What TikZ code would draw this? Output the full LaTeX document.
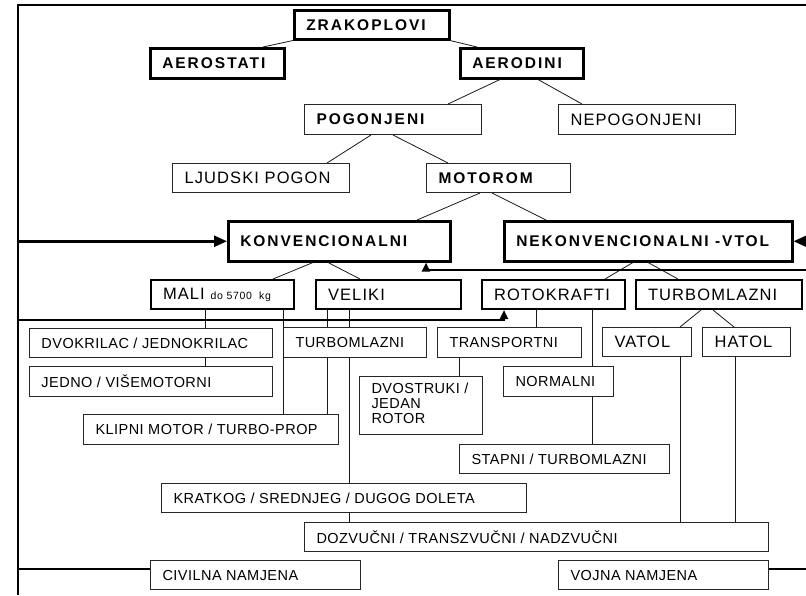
\documentclass[tikz,border=0pt]{standalone}
\usepackage{fontspec}
\setmainfont{Liberation Sans}
\newfontfamily\fbig[LetterSpace=6.7]{Liberation Sans}
\newfontfamily\fsml[LetterSpace=3.2]{Liberation Sans}
\newfontfamily\fbld[LetterSpace=12.8]{Liberation Sans}
\usetikzlibrary{arrows.meta}
\tikzset{
  big/.style={font=\fbig\fontsize{16.5}{19}\selectfont},
  sml/.style={font=\fsml\fontsize{14.5}{15}\selectfont},
  bld/.style={font=\fbld\bfseries\fontsize{15.5}{18}\selectfont},
  bxA/.style={draw=black, fill=white, line width=2.5pt},
  bxB/.style={draw=black, fill=white, line width=2pt},
  bxC/.style={draw=black!85, fill=white, line width=1pt},
  conn/.style={draw=black!90, line width=0.8pt},
  frm/.style={draw=black, line width=2.5pt},
  bigtip/.style={-{Triangle[length=13pt,width=11pt]}},
  smltip/.style={-{Triangle[length=9pt,width=8pt]}},
}
\newcommand\Bx[7]{%
  \pgfmathsetmacro\bxw{#4-#2-24}\pgfmathsetmacro\bxh{#5-#3}%
  \node[#6,anchor=north west,inner xsep=12pt,inner ysep=0pt,minimum height=\bxh pt] (#1) at (#2,#3) {\hbox to \bxw pt{#7\hss}};}
\begin{document}
\begin{tikzpicture}[x=1pt,y=-1pt]
\fill[white] (0,0) rectangle (806,595);
\useasboundingbox (0,0) rectangle (806,595);
% boxes
\Bx{zrak}{293}{9}{448}{38}{bld,bxA}{ZRAKOPLOVI}
\Bx{aerost}{149}{47}{283}{77}{bld,bxA}{AEROSTATI}
\Bx{aerod}{459}{47}{582}{77}{bld,bxA}{AERODINI}
\Bx{pog}{304}{104}{481}{134}{bld,bxC}{POGONJENI}
\Bx{nepog}{558}{104}{735}{134}{big,bxC}{NEPOGONJENI}
\Bx{ljud}{172}{163}{349}{192}{big,bxC}{LJUDSKI POGON}
\Bx{motor}{426}{163}{570}{192}{bld,bxC}{MOTOROM}
\Bx{konv}{227}{220}{449}{260}{bld,bxA}{KONVENCIONALNI}
\Bx{nekonv}{503}{220}{791}{260}{bld,bxA}{NEKONVENCIONALNI -VTOL}
\Bx{mali}{150}{279}{293}{308}{big,bxB}{MALI {\fontsize{10.5}{12}\selectfont do 5700~~kg}}
\Bx{vel}{315}{279}{460}{308}{big,bxB}{VELIKI}
\Bx{rotok}{481}{279}{624}{308}{big,bxB}{ROTOKRAFTI}
\Bx{turb}{635}{279}{801}{308}{big,bxB}{TURBOMLAZNI}
\Bx{vatol}{602}{327}{691}{356}{big,bxC}{VATOL}
\Bx{hatol}{702}{327}{790}{356}{big,bxC}{HATOL}
\Bx{dvok}{29}{328}{272}{357}{sml,bxC}{DVOKRILAC / JEDNOKRILAC}
\Bx{jedno}{29}{366}{272}{396}{sml,bxC}{JEDNO / VIŠEMOTORNI}
\Bx{klip}{83}{414}{338}{444}{sml,bxC}{KLIPNI MOTOR / TURBO-PROP}
\Bx{turbm}{283}{327}{426}{357}{sml,bxC}{TURBOMLAZNI}
\Bx{trans}{437}{327}{581}{357}{sml,bxC}{TRANSPORTNI}
\Bx{dvos}{359}{376}{482}{434}{sml,bxC}{\begin{tabular}{@{}l@{}}DVOSTRUKI /\\JEDAN\\ROTOR\end{tabular}}
\Bx{norm}{503}{366}{613}{396}{sml,bxC}{NORMALNI}
\Bx{stap}{459}{444}{669}{473}{sml,bxC}{STAPNI / TURBOMLAZNI}
\Bx{krat}{161}{483}{526}{512}{sml,bxC}{KRATKOG / SREDNJEG / DUGOG DOLETA}
\Bx{dozv}{304}{522}{768}{551}{sml,bxC}{DOZVUČNI / TRANSZVUČNI / NADZVUČNI}
\Bx{civ}{150}{560}{360}{589}{sml,bxC}{CIVILNA NAMJENA}
\Bx{voj}{558}{560}{768}{589}{sml,bxC}{VOJNA NAMJENA}
% tree connectors
\draw[conn] (zrak.south -| 293,0) -- (aerost.north -| 263,0);
\draw[conn] (zrak.south -| 450,0) -- (aerod.north -| 477,0);
\draw[conn] (aerod.south -| 500,0) -- (pog.north -| 448,0);
\draw[conn] (aerod.south -| 538,0) -- (nepog.north -| 582,0);
\draw[conn] (pog.south -| 371,0) -- (ljud.north -| 327,0);
\draw[conn] (pog.south -| 393,0) -- (motor.north -| 448,0);
\draw[conn] (motor.south -| 480,0) -- (konv.north -| 417,0);
\draw[conn] (motor.south -| 492,0) -- (nekonv.north -| 546,0);
\draw[conn] (konv.south -| 313,0) -- (mali.north -| 273,0);
\draw[conn] (konv.south -| 328,0) -- (vel.north -| 360,0);
\draw[conn] (nekonv.south -| 633,0) -- (rotok.north -| 605,0);
\draw[conn] (nekonv.south -| 648,0) -- (turb.north -| 678,0);
\draw[conn] (turb.south -| 701,0) -- (vatol.north -| 680,0);
\draw[conn] (turb.south -| 713,0) -- (hatol.north -| 734,0);
% vertical connectors
\draw[conn] (mali.south -| 205,0) -- (dvok.north -| 205,0);
\draw[conn] (dvok.south -| 205,0) -- (jedno.north -| 205,0);
\draw[conn] (mali.south -| 283,0) -- (klip.north -| 283,0);
\draw[conn] (vel.south -| 327,0) -- (turbm.north -| 327,0);
\draw[conn] (turbm.south -| 327,0) -- (klip.north -| 327,0);
\draw[conn] (vel.south -| 349,0) -- (turbm.north -| 349,0);
\draw[conn] (turbm.south -| 349,0) -- (krat.north -| 349,0);
\draw[conn] (krat.south -| 349,0) -- (dozv.north -| 349,0);
\draw[conn] (rotok.south -| 536,0) -- (trans.north -| 536,0);
\draw[conn] (trans.south -| 459,0) -- (dvos.north -| 459,0);
\draw[conn] (rotok.south -| 592,0) -- (norm.north -| 592,0);
\draw[conn] (norm.south -| 592,0) -- (stap.north -| 592,0);
\draw[conn] (vatol.south -| 680,0) -- (dozv.north -| 680,0);
\draw[conn] (hatol.south -| 735,0) -- (dozv.north -| 735,0);
% frame and thick lines
\coordinate (fTR) at (806,5);
\coordinate (fTL) at (18,5);
\coordinate (fBL) at (18,595);
\draw[frm] (fTR) -- (fTL) -- (fBL);
\coordinate (lA) at (18,320);
\coordinate (lB) at (806,270);
\draw[frm,smltip] (lA) -- (504,320) -- (rotok.south -| 504,0);
\draw[frm,smltip] (lB) -- (426,270) -- (konv.south -| 426,0);
\draw[frm,bigtip] (konv.west -| fTL) -- (konv.west);
\draw[frm,bigtip] (nekonv.east -| fTR) -- (nekonv.east);
\draw[frm] (18,569) -- (civ.west |- 18,569);
\draw[frm] (voj.east |- 806,569) -- (806,569);
\end{tikzpicture}
\end{document}
